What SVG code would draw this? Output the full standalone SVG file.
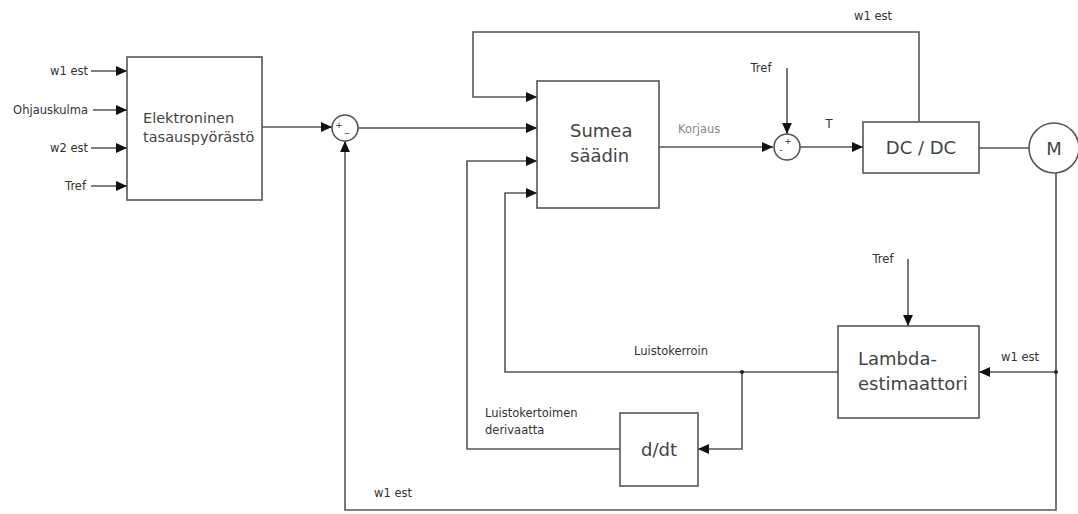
<svg xmlns="http://www.w3.org/2000/svg" width="1078" height="514" viewBox="0 0 1078 514">
<defs>
<marker id="arr" markerUnits="userSpaceOnUse" markerWidth="11" markerHeight="11" refX="11" refY="5.5" orient="auto">
<path d="M0,0.6 L11,5.5 L0,10.4 Z" fill="#111"/>
</marker>
<style>
.blk{fill:#fff;stroke:#555;stroke-width:1.6}
.ln{fill:none;stroke:#555;stroke-width:1.6}
.la{fill:none;stroke:#555;stroke-width:1.6;marker-end:url(#arr)}
.sm{font-family:"DejaVu Sans",sans-serif;font-size:11.5px;fill:#333}
.big{font-family:"DejaVu Sans",sans-serif;font-size:18px;fill:#444}
.mid{font-family:"DejaVu Sans",sans-serif;font-size:14.5px;fill:#444}
.sg{font-family:"DejaVu Sans",sans-serif;font-size:9px;fill:#333}
</style>
</defs>
<rect width="1078" height="514" fill="#fff"/>
<g id="connectors">
<path class="la" d="M91,71 H127"/>
<path class="la" d="M93,110 H127"/>
<path class="la" d="M91,148 H127"/>
<path class="la" d="M91,186 H127"/>
<path class="la" d="M262,127 H332"/>
<path class="la" d="M358,128 H537"/>
<path class="la" d="M919,122 V32 H473 V97 H537"/>
<path class="la" d="M838,372 H505 V193 H537"/>
<path class="la" d="M620,449 H467 V161 H537"/>
<path class="la" d="M742,372 V449 H698"/>
<path class="la" d="M659,147 H773"/>
<path class="la" d="M800,147 H863"/>
<path class="la" d="M787,68 V134"/>
<path class="ln" d="M979,148 H1029"/>
<path class="la" d="M1056,173 V510 H345 V141"/>
<path class="la" d="M1056,372 H979"/>
<path class="la" d="M908,259 V326"/>
<circle cx="742" cy="372" r="2" fill="#222"/>
<circle cx="1056" cy="372" r="2" fill="#222"/>
</g>
<g id="labels">
<text class="sm" x="88" y="75" text-anchor="end">w1 est</text>
<text class="sm" x="88" y="114" text-anchor="end">Ohjauskulma</text>
<text class="sm" x="88" y="152" text-anchor="end">w2 est</text>
<text class="sm" x="86" y="190" text-anchor="end">Tref</text>
<text class="sm" x="873" y="20" text-anchor="middle">w1 est</text>
<text class="sm" x="761" y="72" text-anchor="middle">Tref</text>
<text class="sm" x="678" y="133" style="fill:#888">Korjaus</text>
<text class="sm" x="829" y="128" text-anchor="middle">T</text>
<text class="sm" x="883" y="263" text-anchor="middle">Tref</text>
<text class="sm" x="1020" y="361" text-anchor="middle">w1 est</text>
<text class="sm" x="671" y="355" text-anchor="middle">Luistokerroin</text>
<text class="sm" x="485" y="417">Luistokertoimen</text>
<text class="sm" x="485" y="434">derivaatta</text>
<text class="sm" x="393" y="497" text-anchor="middle">w1 est</text>
</g>
<g id="elektroninen">
<rect class="blk" x="127" y="57" width="135" height="143"/>
<text class="mid" x="143" y="123">Elektroninen</text>
<text class="mid" x="143" y="142">tasauspyörästö</text>
</g>
<g id="sum1">
<circle class="blk" cx="345" cy="128" r="13"/>
<text class="sg" x="339" y="128" text-anchor="middle">+</text>
<text class="sg" x="347" y="132" text-anchor="middle">_</text>
</g>
<g id="sumea">
<rect class="blk" x="537" y="81" width="122" height="127"/>
<text class="big" x="570" y="137">Sumea</text>
<text class="big" x="570" y="162">säädin</text>
</g>
<g id="sum2">
<circle class="blk" cx="787" cy="147" r="13"/>
<text class="sg" x="788" y="144" text-anchor="middle">+</text>
<text class="sg" x="781" y="153" text-anchor="middle">-</text>
</g>
<g id="dcdc">
<rect class="blk" x="863" y="122" width="116" height="51"/>
<text class="big" x="921" y="154" text-anchor="middle">DC / DC</text>
</g>
<g id="motor">
<circle class="blk" cx="1054" cy="148" r="25"/>
<text class="big" x="1054" y="155" text-anchor="middle">M</text>
</g>
<g id="lambda">
<rect class="blk" x="838" y="326" width="141" height="92"/>
<text class="big" x="858" y="365">Lambda-</text>
<text class="big" x="858" y="390">estimaattori</text>
</g>
<g id="ddt">
<rect class="blk" x="620" y="413" width="78" height="73"/>
<text class="big" x="659" y="456" text-anchor="middle">d/dt</text>
</g>
</svg>
